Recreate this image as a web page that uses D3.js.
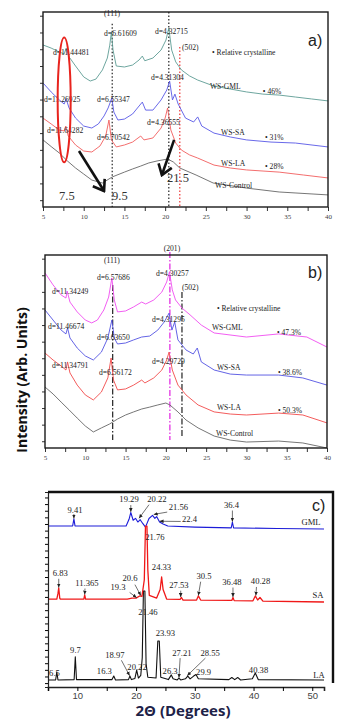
<!DOCTYPE html>
<html>
<head>
<meta charset="utf-8">
<script src="https://cdn.jsdelivr.net/npm/d3@7"></script>
<style>
  body { margin: 0; background: #fff; }
  svg text { font-family: "Liberation Serif", "Times New Roman", serif; fill: #222; }
  .bold { font-family: "Open Sans", "Noto Sans", sans-serif !important; font-weight: bold; }
</style>
</head>
<body>
<div id="chart"></div>
<script>
// ---- panel a) : 2theta (deg), intensity (arb.)
var aGML = [[5,83.1],[6,81.5],[7,79.5],[7.6,78.5],[7.85,81.5],[8.2,77],[9,72.3],[10,66.7],[10.8,64.6],[11.5,65.6],[12.3,70.3],[12.9,76.4],[13.2,83],[13.4,89.7],[13.6,80.5],[14,72.3],[15,71.8],[16,72.8],[16.8,75.4],[17.2,77.4],[17.5,75],[18.5,76.4],[19.5,80.5],[20.1,85.6],[20.45,91.8],[20.8,80.5],[21.3,74.4],[22,70.3],[23,67.2],[24,65.1],[26,62],[28,60.5],[30,59],[32,57.9],[34,57.4],[36,56.4],[38,55.4],[40,54.4]];
var aSA = [[5,63.6],[6,59],[7,54.9],[7.6,52.8],[7.85,55.4],[8.2,50.8],[9,45.6],[10,41.5],[11,40.5],[11.8,42.6],[12.5,46.7],[13,50.8],[13.45,55.9],[13.7,48.7],[14.2,44.6],[15,45.1],[16,47.7],[16.8,51.8],[17.2,53.8],[17.6,49.7],[18.5,49.7],[19.5,54.9],[20.2,60],[20.55,64.6],[20.9,54.9],[21.2,57.9],[21.6,52.8],[22.5,45.6],[23.5,43.6],[24,46.2],[24.5,41.5],[26,37.9],[28,35.9],[30,34.4],[33,33.3],[36,32.8],[40,30.8]];
var aLA = [[5,45.6],[6,42.6],[7,39.5],[7.6,39],[7.8,41.5],[8.1,36.4],[9,31.8],[10,28.7],[11,28.2],[12,31.3],[12.7,36.4],[13.1,44.6],[13.4,34.4],[14,30.8],[15,31.8],[16,33.3],[17,36.4],[17.4,34.4],[18.5,35.4],[19.5,40.5],[20,45.6],[20.3,50.8],[20.7,39.5],[21.3,32.8],[22,29.2],[23,26.7],[24,25.1],[26,21.5],[28,20],[30,19],[34,17.9],[37,16.4],[40,14.9]];
var aControl = [[5,34.4],[6,31],[7,27.7],[8,23.6],[9,20],[10,16.9],[11,13.8],[12.3,12.3],[13.5,15.4],[15,17.9],[16,19.5],[17,21],[18,22.6],[19,23.6],[20.3,24.6],[21,23.1],[21.8,20],[23.8,16.4],[25.9,12.3],[30,9.7],[34,7.7],[40,6.2]];
var aTicks = [5, 10, 15, 20, 25, 30, 35, 40];
var aLabels = [
  ["(111)", 13.48, 97.7, "middle"], ["d=6.61609", 12.5, 87.9], ["d=4.32715", 18.76, 88.7],
  ["(502)", 22.08, 80.3], ["\u2022 Relative crystalline", 25.76, 78.2], ["d=11.44481", 6.23, 78.2],
  ["d=4.31304", 18.27, 64.9], ["WS-GML", 25.5, 60.3], ["\u2022 46%", 32.0, 58.2],
  ["d=11.26925", 5.12, 54.1], ["d=6.55347", 11.63, 54.1], ["d=4.36555", 17.78, 41.8],
  ["d=11.64282", 5.49, 37.7], ["d=6.70542", 11.63, 34.6], ["WS-SA", 26.87, 36.7],
  ["\u2022 31%", 32.27, 34.6], ["WS-LA", 26.87, 20.8], ["\u2022 28%", 32.27, 19.7],
  ["WS-Control", 26.13, 10]
];
var aBigLabels = [["7.5", 6.97, 3.6], ["9.5", 13.48, 3.6], ["21.5", 20.23, 12.8]];
var aRefLines = [[13.5, 94, 0, "#222"], [20.45, 100, 0, "#222"], [21.8, 82, 0, "#e33"]];
var aArrows = [[9.42, 28.7, 12.5, 8.2], [21.1, 34.4, 19.6, 16.4]];

// ---- panel b)
var bGML = [[5,90.7],[6,84.5],[7,79.3],[7.6,77.7],[7.75,81.3],[8.1,75.6],[9,70.5],[10,66.3],[10.8,64.8],[11.5,66.3],[12.3,71.5],[12.9,78.2],[13.3,88.1],[13.6,76.7],[14,70.5],[15,71],[16,73.1],[17,75.6],[17.5,74.6],[18.5,76.7],[19.5,80.8],[20.1,86],[20.45,91.2],[20.8,81.9],[21.2,76.7],[22,72.5],[23,69],[24.4,63.7],[26,59.6],[30,57.5],[34,59.1],[37.5,57.5],[40,52.3]];
var bSA = [[5,71.5],[6,66.3],[7,61.1],[7.6,59.1],[7.8,62.2],[8.1,57],[9,51.8],[10,47.7],[11,45.6],[12,49.7],[12.8,57],[13.3,66.3],[13.6,57],[14,53.9],[15,54.4],[16,56],[17,57.5],[18,58],[19,61.1],[19.8,65.3],[20.4,69.9],[20.75,61.1],[21.1,65.3],[21.5,56],[22.5,50.8],[23.4,48.7],[23.9,51.8],[24.4,44.6],[26,40.4],[28,38.3],[30,37.8],[34,37.8],[37,36.3],[40,32.6]];
var bLA = [[5,49.2],[6,45.6],[7,42.5],[7.6,40.4],[7.8,44.6],[8.1,38.9],[9,32.6],[10,27.5],[11,24.9],[12,29],[12.8,36.3],[13.2,46.6],[13.5,35.2],[14,30.1],[15,30.6],[16,32.6],[17,35.2],[17.4,33.7],[18.5,36.3],[19.5,40.4],[20.1,45.6],[20.4,49.7],[20.8,40.4],[21.5,32.6],[22.5,27.5],[24,22.3],[26,18.7],[28,17.6],[30,17.1],[34,18.1],[37,17.1],[40,13]];
var bControl = [[5,31.6],[6,28],[7,23.8],[8,19.7],[9,15.5],[10,11.4],[11,8.3],[12,10.4],[13,12.4],[14,15],[15,17.1],[16,18.7],[17,20.2],[18,21.2],[19,22.3],[20,23.3],[20.5,22.3],[21.5,18.7],[22.5,14.5],[24,10.4],[26,6.2],[28,4.1],[30,3.1],[34,3.6],[37,2.6],[40,0]];
var bTicks = [5, 10, 15, 20, 25, 30, 35, 40];
var bLabels = [
  ["(201)", 20.76, 102.1, "middle"], ["(111)", 13.31, 96.1, "middle"], ["d=6.57686", 11.45, 86.8],
  ["d=4.30257", 18.77, 88.9], ["(502)", 22.0, 82.1], ["d=11.34249", 5.87, 80],
  ["\u2022 Relative crystalline", 26.34, 71.2], ["d=11.46674", 5.37, 61.4], ["d=4.31295", 18.28, 65.5],
  ["WS-GML", 25.72, 60.9], ["\u2022 47.3%", 33.78, 58.3], ["d=6.63650", 11.45, 56.2],
  ["d=11.34791", 5.87, 41.7], ["d=4.29729", 18.28, 43.3], ["d=6.56172", 11.7, 37.6],
  ["WS-SA", 26.34, 40.2], ["\u2022 38.6%", 33.91, 37.6], ["WS-LA", 26.34, 19.9],
  ["\u2022 50.3%", 33.91, 17.9], ["WS-Control", 26.22, 6.0]
];
var bRefLines = [[13.4, 84.5, 4.1, "#222"], [20.5, 101.6, 4.1, "#e020e0"], [22.0, 80.8, 5.7, "#222"]];

// ---- panel c)
var cGML = [[5,82.6],[9.2,82.6],[9.41,86.2],[9.6,82.6],[18.3,82.6],[18.8,86],[19.1,89.5],[19.5,85.5],[19.9,86.5],[20.3,84.6],[20.7,85.8],[21.1,84],[21.6,82],[22.2,86.4],[22.8,88],[23.2,86.5],[23.5,87.4],[24,84.6],[24.6,83.6],[25.4,82.6],[30,82],[36.2,81.6],[36.4,84.6],[36.6,81.6],[44,81.3],[52,81]];
var cSA = [[5,45.1],[6.5,45.1],[6.7,48],[6.83,50.8],[7,45.6],[7.1,45.1],[11.1,45.1],[11.25,47.2],[11.4,45.1],[18.5,45.1],[19.3,45.6],[20,45.6],[20.6,46.7],[21,46.5],[21.4,55],[21.6,82.5],[21.85,82.5],[22,60],[22.25,47],[23.5,45.6],[24.1,50],[24.35,56.4],[24.6,50],[25.2,45.1],[27.5,44.9],[27.7,45.9],[28,44.6],[30.3,44.6],[30.6,46.7],[31,44.6],[36.3,44.4],[36.5,45.9],[36.7,44.3],[39.9,44.2],[40.3,46.7],[40.7,44.6],[41.1,45.9],[41.6,44],[52,43.6]];
var cLA = [[5,3.6],[6.3,3.6],[6.5,7.7],[6.7,3.6],[9.45,3.8],[9.65,15.5],[9.85,3.8],[15.9,3.8],[16.2,5.6],[16.5,3.6],[18.7,3.8],[18.95,5.6],[19.2,3.8],[19.8,4.4],[20.1,8.7],[20.4,4.6],[20.8,6],[21.05,15],[21.25,49.2],[21.5,49.2],[21.7,12],[22,5],[23.4,4.6],[23.7,23.6],[23.95,23.6],[24.2,5],[25.5,3.8],[26,6.2],[26.3,4.2],[27,3.6],[27.3,4.6],[27.6,3.6],[28.4,4.2],[28.8,5.6],[29.2,4.2],[29.8,5.6],[30.2,6.4],[30.6,4.2],[35.8,3.8],[36.3,4.9],[36.8,3.8],[37.3,4.9],[37.8,3.6],[39.8,4.2],[40.3,7.2],[40.8,3.8],[52,3.6]];
var cTicks = [5, 10, 15, 20, 25, 30, 35, 40, 45, 50];
var cLabels = [
  ["9.41", 9.6, 89.2], ["19.29", 18.8, 94.9], ["20.22", 23.56, 94.9], ["21.56", 27.2, 90.8],
  ["22.4", 29.1, 84.6], ["36.4", 36.25, 91.8], ["GML", 49.8, 83.1],
  ["21.76", 23.2, 75.4], ["6.83", 7.1, 56.9], ["11.365", 11.64, 51.8], ["19.3", 16.92, 49.7],
  ["20.6", 18.96, 54.4], ["24.33", 24.33, 60], ["27.53", 27.3, 50.8], ["30.5", 31.57, 55.4],
  ["36.48", 36.33, 52.3], ["40.28", 41.19, 52.8], ["SA", 50.98, 45.6],
  ["21.46", 22.03, 36.9], ["23.93", 25.0, 26.2], ["9.7", 9.68, 17.4], ["6.5", 6.1, 5.6],
  ["16.3", 14.6, 6.7], ["18.97", 16.4, 14.9], ["20.22", 20.16, 8.7], ["27.21", 27.8, 15.9],
  ["28.55", 32.6, 15.9], ["26.3", 25.8, 6.7], ["29.9", 31.5, 6.2], ["40.38", 40.85, 7.2], ["LA", 51.15, 4.6]
];
var cLeaders = [
  [9.41, 88.7, 9.41, 86.4], [19.1, 93.3, 19.1, 89.8], [22.2, 93.5, 20.5, 86.5], [25.3, 89.7, 23.0, 88.5],
  [27.6, 84.9, 24.0, 85], [36.4, 90.5, 36.4, 84.8], [6.83, 55.5, 6.83, 51], [11.3, 50.5, 11.25, 47.4],
  [18.9, 48.5, 20.1, 45.8], [19.8, 52.5, 20.8, 46.9], [27.6, 49.4, 27.6, 46.1], [31.0, 54, 30.6, 46.9],
  [36.5, 51, 36.5, 46.1], [40.5, 51.3, 40.4, 46.9], [17.5, 13.7, 18.9, 5.8], [27.5, 14.8, 27.3, 4.8],
  [31.8, 14.8, 28.7, 5.8]
];

var svg = d3.select("#chart").append("svg")
  .attr("width", 352).attr("height", 727);

var defs = svg.append("defs");
defs.append("marker").attr("id", "bigHead")
  .attr("markerUnits", "userSpaceOnUse").attr("viewBox", "-12 -9 14 18")
  .attr("markerWidth", 14).attr("markerHeight", 18).attr("orient", "auto")
  .append("path").attr("d", "M-10,-7 L0,0 L-10,7")
  .attr("fill", "none").attr("stroke", "#111").attr("stroke-width", 2.6);
defs.append("marker").attr("id", "smallHead")
  .attr("markerUnits", "userSpaceOnUse").attr("viewBox", "-4 -2 4 4")
  .attr("markerWidth", 4).attr("markerHeight", 4).attr("orient", "auto")
  .append("path").attr("d", "M-4,-1.8 L0,0 L-4,1.8 Z").attr("fill", "#222");

function makePanel(box, xdom) {
  var x = d3.scaleLinear().domain(xdom).range([box.left, box.right]);
  var y = d3.scaleLinear().domain([0, 100]).range([box.bottom, box.top]);
  var line = d3.line().x(function(d){ return x(d[0]); }).y(function(d){ return y(d[1]); });
  return {x: x, y: y, line: line, box: box};
}

function drawCurve(p, data, color, w) {
  svg.append("path").datum(data)
    .attr("d", p.line)
    .attr("fill", "none").attr("stroke", color)
    .attr("stroke-width", w || 0.9).attr("stroke-linejoin", "round");
}

function drawLabels(p, labels, size, anchorDefault) {
  svg.append("g").selectAll("text").data(labels).enter().append("text")
    .attr("x", function(d){ return p.x(d[1]); })
    .attr("y", function(d){ return p.y(d[2]); })
    .attr("text-anchor", function(d){ return d[3] || anchorDefault; })
    .style("font-size", size + "px")
    .text(function(d){ return d[0]; });
}

function drawRefLines(p, lines, dash) {
  svg.append("g").selectAll("line").data(lines).enter().append("line")
    .attr("x1", function(d){ return p.x(d[0]); }).attr("x2", function(d){ return p.x(d[0]); })
    .attr("y1", function(d){ return p.y(d[1]); }).attr("y2", function(d){ return p.y(d[2]); })
    .attr("stroke", function(d){ return d[3]; })
    .attr("stroke-width", 1.2).attr("stroke-dasharray", dash);
}

function drawFrameAxes(p, ticks) {
  var b = p.box;
  var xa = svg.append("g").attr("transform", "translate(0," + b.bottom + ")")
    .call(d3.axisBottom(p.x).tickValues(d3.range(5, 40.01, 2.5)).tickSize(4).tickPadding(3)
      .tickFormat(function(v){ return ticks.indexOf(v) >= 0 ? v : ""; }));
  xa.select(".domain").remove();
  xa.selectAll("text").style("font-size", "7px").style("fill", "#444");
  var ya = svg.append("g").attr("transform", "translate(" + b.left + ",0)")
    .call(d3.axisLeft(p.y).tickValues(d3.range(3.5, 100, 8.6)).tickSize(3).tickFormat(""));
  ya.select(".domain").remove();
  svg.append("rect").attr("x", b.left).attr("y", b.top)
    .attr("width", b.right - b.left).attr("height", b.bottom - b.top)
    .attr("fill", "none").attr("stroke", "#1a1a1a").attr("stroke-width", 1.4);
  svg.selectAll(".tick line").attr("stroke", "#333");
}

// ---------- a)
var pa = makePanel({left: 43, right: 328, top: 12, bottom: 207}, [5, 40]);
drawRefLines(pa, aRefLines, "1.5,2");
drawCurve(pa, aGML, "#5e9c94");
drawCurve(pa, aSA, "#5858e6");
drawCurve(pa, aLA, "#f25e5e");
drawCurve(pa, aControl, "#666");
drawFrameAxes(pa, aTicks);
drawLabels(pa, aLabels, 7.6, "start");
svg.append("g").selectAll("text").data(aBigLabels).enter().append("text")
  .attr("x", function(d){ return pa.x(d[1]); }).attr("y", function(d){ return pa.y(d[2]); })
  .style("font-size", "12.5px").style("fill", "#333").text(function(d){ return d[0]; });
svg.append("ellipse")
  .attr("cx", pa.x(7.6)).attr("cy", pa.y(54.9))
  .attr("rx", pa.x(8.4) - pa.x(7.6)).attr("ry", pa.y(22.9) - pa.y(54.9))
  .attr("fill", "none").attr("stroke", "#e8241e").attr("stroke-width", 2);
svg.append("g").selectAll("line").data(aArrows).enter().append("line")
  .attr("x1", function(d){ return pa.x(d[0]); }).attr("y1", function(d){ return pa.y(d[1]); })
  .attr("x2", function(d){ return pa.x(d[2]); }).attr("y2", function(d){ return pa.y(d[3]); })
  .attr("stroke", "#111").attr("stroke-width", 2.6).attr("marker-end", "url(#bigHead)");
svg.append("text").attr("x", 308).attr("y", 46).attr("class", "sans")
  .style("font-family", "'Liberation Sans', Arial, sans-serif").style("font-size", "16px").text("a)");

// ---------- b)
var pb = makePanel({left: 45, right: 327, top: 255, bottom: 448}, [5, 40]);
drawRefLines(pb, bRefLines, "6,2,1.5,2");
drawCurve(pb, bGML, "#f04cf0");
drawCurve(pb, bSA, "#5252e2");
drawCurve(pb, bLA, "#f24a4a");
drawCurve(pb, bControl, "#666");
drawFrameAxes(pb, bTicks);
drawLabels(pb, bLabels, 7.6, "start");
svg.append("text").attr("x", 308).attr("y", 278)
  .style("font-family", "'Liberation Sans', Arial, sans-serif").style("font-size", "16px").text("b)");

// ---------- c)
var pc = makePanel({left: 48, right: 324, top: 492, bottom: 687}, [5, 52]);
drawCurve(pc, cGML, "#1c1cd8", 1.1);
drawCurve(pc, cLA, "#111", 1.1);
drawCurve(pc, cSA, "#f01818", 1.3);
var cx = svg.append("g").attr("transform", "translate(0," + pc.box.bottom + ")")
  .call(d3.axisBottom(pc.x).tickValues(cTicks).tickSize(4).tickPadding(1)
    .tickFormat(function(v){ return v % 10 === 0 ? v : ""; }));
cx.select(".domain").attr("stroke", "#222").attr("stroke-width", 1.6);
cx.selectAll("text").style("font-family", "'Liberation Sans', Arial, sans-serif")
  .style("font-size", "9.5px").style("fill", "#444");
var cy = svg.append("g").attr("transform", "translate(" + pc.box.left + ",0)")
  .call(d3.axisLeft(pc.y).tickValues(d3.range(2, 100, 3.4)).tickSize(3).tickFormat(""));
cy.select(".domain").attr("stroke", "#222").attr("stroke-width", 1.2);
svg.append("path")
  .attr("d", "M" + pc.box.left + "," + pc.box.top + "H333V683")
  .attr("fill", "none").attr("stroke", "#111").attr("stroke-width", 2.4);
svg.append("g").selectAll("line").data(cLeaders).enter().append("line")
  .attr("x1", function(d){ return pc.x(d[0]); }).attr("y1", function(d){ return pc.y(d[1]); })
  .attr("x2", function(d){ return pc.x(d[2]); }).attr("y2", function(d){ return pc.y(d[3]); })
  .attr("stroke", "#333").attr("stroke-width", 0.7).attr("marker-end", "url(#smallHead)");
drawLabels(pc, cLabels, 8.6, "middle");
svg.append("text").attr("x", 312).attr("y", 511)
  .style("font-family", "'Liberation Sans', Arial, sans-serif").style("font-size", "16px").text("c)");

// ---------- axis titles
svg.append("text").attr("class", "bold")
  .attr("transform", "translate(27,380) rotate(-90)")
  .attr("text-anchor", "middle").style("font-size", "14px").style("fill", "#111")
  .text("Intensity (Arb. Units)");
svg.append("text").attr("class", "bold")
  .attr("x", 183).attr("y", 716).attr("text-anchor", "middle")
  .style("font-size", "15px").style("fill", "#1e2248")
  .text("2\u0398 (Degrees)");
</script>
</body>
</html>
